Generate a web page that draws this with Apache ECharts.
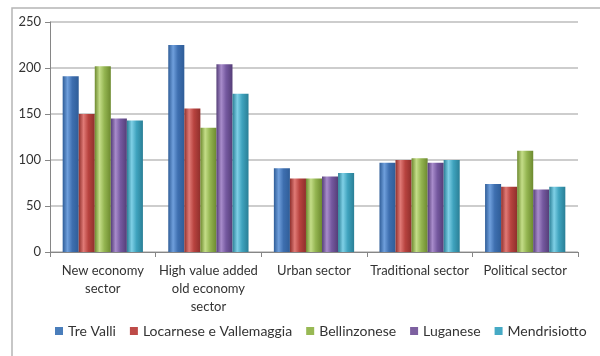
<!DOCTYPE html>
<html>
<head>
<meta charset="utf-8">
<script src="https://cdn.jsdelivr.net/npm/echarts@6/dist/echarts.min.js"></script>
<style>
html,body{margin:0;padding:0;background:#fff;}
#c{width:600px;height:356px;}
</style>
</head>
<body>
<div id="c"></div>
<script>
var categories = ['New economy\nsector', 'High value added\nold economy\nsector', 'Urban sector', 'Traditional sector', 'Political sector'];
var seriesNames = ['Tre Valli', 'Locarnese e Vallemaggia', 'Bellinzonese', 'Luganese', 'Mendrisiotto'];
var treValli = [191, 225, 91, 97, 74];
var locarnese = [150, 156, 80, 100, 71];
var bellinzonese = [202, 135, 80, 102, 110];
var luganese = [145, 204, 82, 97, 68];
var mendrisiotto = [143, 172, 86, 100, 71];
var yTicks = [0, 50, 100, 150, 200, 250];

var values = [treValli, locarnese, bellinzonese, luganese, mendrisiotto];
var palette = [
  ['#2f5d98', '#6f9fdc', '#3e6fb0'],
  ['#8f2f2c', '#e07a76', '#b8433f'],
  ['#6d8a2f', '#c4dd88', '#94b551'],
  ['#553e78', '#a88ccb', '#7559a0'],
  ['#2a7f96', '#7fd0e6', '#3fa3be']
];
var legendColors = ['#4a7ebb', '#be4b48', '#98b954', '#7d60a0', '#46aac5'];

var chart = echarts.init(document.getElementById('c'), null, {renderer: 'canvas'});
var series = seriesNames.map(function (n, i) {
  var p = palette[i];
  return {
    name: n,
    type: 'bar',
    data: values[i],
    barGap: '0%',
    barCategoryGap: '24%',
    itemStyle: {
      color: {
        type: 'linear', x: 0, y: 0, x2: 1, y2: 0,
        colorStops: [
          {offset: 0, color: p[0]},
          {offset: 0.3, color: p[1]},
          {offset: 0.6, color: p[2]},
          {offset: 1, color: p[0]}
        ]
      }
    }
  };
});

chart.setOption({
  animation: false,
  color: legendColors,
  textStyle: {fontFamily: 'Lato'},
  graphic: [{
    type: 'rect',
    shape: {x: 12, y: 8, width: 620, height: 400},
    style: {fill: 'none', stroke: '#b5b5b5', lineWidth: 1.5},
    z: 0
  }],
  grid: {left: 50, right: 22, top: 22, bottom: 104, containLabel: false},
  legend: {
    data: seriesNames.map(function (n, i) { return {name: n, itemStyle: {color: legendColors[i]}}; }),
    top: 319,
    left: 50,
    icon: 'rect',
    itemWidth: 8,
    itemHeight: 8,
    itemGap: 14,
    textStyle: {fontSize: 14, color: '#333', fontFamily: 'Lato'}
  },
  xAxis: {
    type: 'category',
    data: categories,
    axisLine: {lineStyle: {color: '#868686'}},
    axisTick: {show: true, length: 5, lineStyle: {color: '#868686'}},
    axisLabel: {fontSize: 13, color: '#333', lineHeight: 18, margin: 10, interval: 0, fontFamily: 'Lato'}
  },
  yAxis: {
    type: 'value',
    min: yTicks[0],
    max: yTicks[yTicks.length - 1],
    interval: yTicks[1] - yTicks[0],
    axisLine: {show: true, lineStyle: {color: '#868686'}},
    axisTick: {show: true, length: 5, lineStyle: {color: '#868686'}},
    axisLabel: {fontSize: 13, color: '#333', margin: 9, fontFamily: 'Lato'},
    splitLine: {lineStyle: {color: '#bdbdbd', width: 1.5}}
  },
  series: series
});
</script>
</body>
</html>
